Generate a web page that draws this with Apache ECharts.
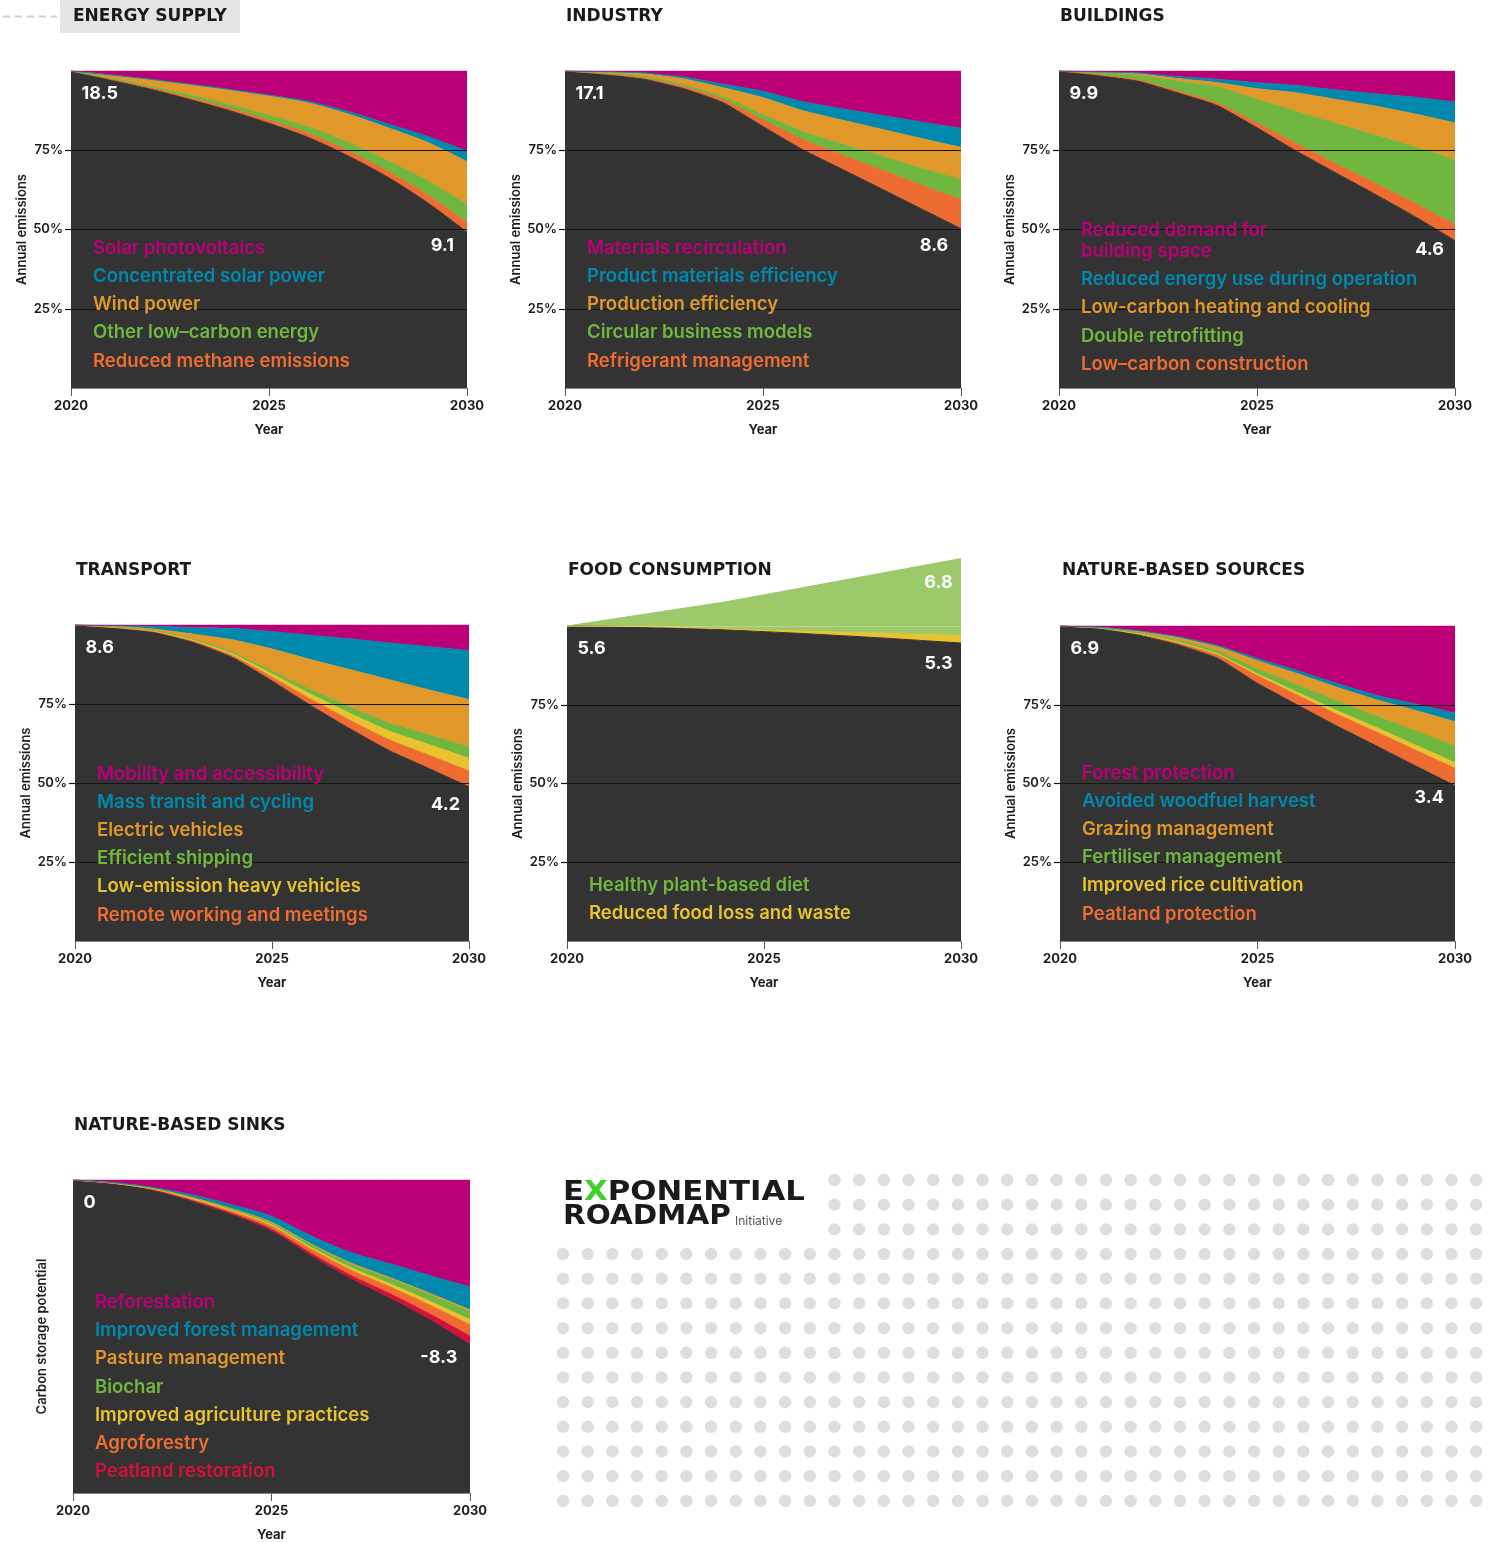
<!DOCTYPE html>
<html>
<head>
<meta charset="utf-8">
<title>Exponential Roadmap – sector pathways 2020–2030</title>
<script src="https://cdn.jsdelivr.net/npm/echarts@6/dist/echarts.min.js"></script>
<style>
  html, body { margin: 0; padding: 0; background: #ffffff; }
  #chart { width: 1488px; height: 1543px; }
</style>
</head>
<body>
<div id="chart"></div>
<script>
// ---------- data: share of 2020 emissions (%) per solution wedge ----------
const years = ['2020', '2021', '2022', '2023', '2024', '2025', '2026', '2027', '2028', '2029', '2030'];

// Energy supply (18.5 Gt in 2020 -> 9.1 Gt in 2030)
const energyTotals      = ['18.5', '9.1'];
const energyRemaining   = [100, 97.2, 94.3, 91.0, 87.5, 83.5, 79.0, 73.2, 66.5, 58.5, 49.2];
const energyMethane     = [0, 0.2, 0.4, 0.6, 0.8, 1.0, 1.3, 1.6, 1.9, 2.5, 3.0];
const energyOtherLow    = [0, 0.3, 0.5, 0.8, 1.1, 1.5, 2.0, 2.6, 3.3, 4.4, 5.6];
const energyWind        = [0, 1.0, 2.1, 3.3, 4.6, 6.1, 7.6, 9.0, 10.4, 12.1, 13.6];
const energyCSP         = [0, 0.05, 0.1, 0.15, 0.2, 0.3, 0.5, 0.8, 1.2, 1.9, 3.3];
const energySolarPV     = [0, 1.25, 2.6, 4.15, 5.8, 7.6, 9.6, 12.8, 16.7, 20.6, 25.3];

// Industry (17.1 -> 8.6)
const industryTotals        = ['17.1', '8.6'];
const industryRemaining     = [100, 98.9, 97.4, 94.4, 90.0, 82.5, 75.2, 69.0, 62.8, 56.5, 50.3];
const industryRefrigerant   = [0, 0.2, 0.4, 0.7, 1.0, 2.1, 3.2, 4.5, 6.0, 7.5, 9.1];
const industryCircular      = [0, 0.2, 0.4, 0.6, 0.9, 1.6, 2.5, 3.4, 4.3, 5.3, 6.3];
const industryProduction    = [0, 0.4, 0.9, 1.8, 2.8, 5.4, 6.6, 7.6, 8.5, 9.4, 10.2];
const industryProductMat    = [0, 0.1, 0.3, 0.6, 1.1, 2.0, 2.8, 3.6, 4.4, 5.2, 6.0];
const industryRecirculation = [0, 0.2, 0.6, 1.9, 4.2, 6.4, 9.7, 11.9, 14.0, 16.1, 18.1];

// Buildings (9.9 -> 4.6)
const buildingsTotals       = ['9.9', '4.6'];
const buildingsRemaining    = [100, 98.6, 96.8, 93.1, 89.1, 82.1, 74.7, 67.8, 61.0, 54.0, 46.5];
const buildingsConstruction = [0, 0.2, 0.4, 0.6, 0.8, 1.5, 2.3, 2.9, 3.5, 4.2, 5.0];
const buildingsRetrofit     = [0, 0.6, 1.4, 3.0, 5.1, 7.4, 10.2, 12.7, 15.2, 17.7, 20.5];
const buildingsHeating      = [0, 0.2, 0.5, 0.9, 1.3, 3.4, 5.9, 7.6, 9.2, 10.5, 11.6];
const buildingsOperation    = [0, 0.1, 0.3, 0.6, 1.1, 1.9, 2.3, 3.0, 3.9, 5.3, 6.6];
const buildingsSpace        = [0, 0.3, 0.6, 1.8, 2.6, 3.7, 4.6, 6.0, 7.2, 8.3, 9.8];

// Transport (8.6 -> 4.2)
const transportTotals    = ['8.6', '4.2'];
const transportRemaining = [100, 99.1, 97.7, 94.5, 89.7, 82.3, 74.4, 67.0, 60.1, 54.5, 48.8];
const transportRemote    = [0, 0.1, 0.2, 0.4, 0.6, 1.2, 2.0, 2.7, 3.4, 4.2, 5.0];
const transportHeavy     = [0, 0.1, 0.2, 0.3, 0.5, 1.0, 1.6, 2.2, 2.8, 3.4, 4.0];
const transportShipping  = [0, 0.1, 0.2, 0.3, 0.5, 0.9, 1.4, 1.9, 2.5, 3.0, 3.6];
const transportEV        = [0, 0.2, 0.4, 1.6, 4.0, 7.0, 9.6, 12.0, 13.8, 14.3, 15.0];
const transportTransit   = [0, 0.2, 0.9, 2.0, 3.6, 5.5, 7.7, 9.8, 11.7, 13.7, 15.5];
const transportMobility  = [0, 0.2, 0.4, 0.9, 1.1, 2.1, 3.3, 4.4, 5.7, 6.9, 8.1];

// Food consumption (5.6 -> 5.3, business-as-usual 6.8)
const foodTotals    = ['5.6', '5.3', '6.8'];
const foodRemaining = [100, 99.9, 99.7, 99.3, 98.8, 98.2, 97.6, 96.9, 96.2, 95.4, 94.6];
const foodWaste     = [0, 0.05, 0.1, 0.2, 0.35, 0.5, 0.8, 1.1, 1.5, 1.9, 2.4];
const foodDiet      = [0, 1.95, 4.0, 6.2, 8.45, 11.2, 13.8, 16.5, 19.1, 21.8, 24.4];

// Nature-based sources (6.9 -> 3.4)
const natureTotals     = ['6.9', '3.4'];
const natureRemaining  = [100, 99.3, 97.1, 94.0, 89.7, 81.8, 75.0, 68.3, 62.0, 55.6, 49.3];
const naturePeatland   = [0, 0.05, 0.3, 0.6, 1.0, 2.4, 3.1, 3.7, 4.4, 5.0, 5.5];
const natureRice       = [0, 0.02, 0.12, 0.24, 0.37, 0.6, 0.9, 1.2, 1.4, 1.6, 1.8];
const natureFertiliser = [0, 0.07, 0.32, 0.6, 0.93, 1.5, 2.3, 3.0, 3.6, 4.5, 5.3];
const natureGrazing    = [0, 0.12, 0.5, 0.86, 1.33, 2.7, 3.6, 4.4, 5.2, 6.5, 7.7];
const natureWoodfuel   = [0, 0.04, 0.16, 0.3, 0.47, 0.7, 0.95, 1.2, 1.4, 2.0, 2.7];
const natureForest     = [0, 0.4, 1.5, 3.4, 6.2, 10.3, 14.15, 18.2, 22.0, 24.8, 27.7];

// Nature-based sinks (Gt CO2 stored; level reaches -8.3 by 2030)
const sinksTotals         = ['0', '-8.3'];
const sinksLevel          = [0, -0.17, -0.5, -1.08, -1.75, -2.58, -3.83, -5.0, -6.0, -7.07, -8.3];
const sinksPeatland       = [0, 0, 0.01, 0.04, 0.06, 0.1, 0.13, 0.18, 0.24, 0.29, 0.42];
const sinksAgroforestry   = [0, 0.01, 0.03, 0.07, 0.1, 0.15, 0.2, 0.27, 0.35, 0.45, 0.58];
const sinksAgriculture    = [0, 0, 0.01, 0.03, 0.05, 0.07, 0.09, 0.12, 0.16, 0.2, 0.25];
const sinksBiochar        = [0, 0.01, 0.02, 0.05, 0.07, 0.1, 0.14, 0.19, 0.25, 0.32, 0.4];
const sinksPasture        = [0, 0, 0.01, 0.01, 0.02, 0.03, 0.04, 0.05, 0.06, 0.08, 0.1];
const sinksForestMgmt     = [0, 0.02, 0.05, 0.13, 0.2, 0.3, 0.4, 0.53, 0.7, 0.9, 1.15];
const sinksReforestation  = [0, 0.13, 0.37, 0.75, 1.25, 1.83, 2.83, 3.66, 4.24, 4.83, 5.4];

const yTickValues = [25, 50, 75];

// ---------- palette ----------
const COL = {
  magenta: '#bb0077', blue: '#0088ad', amber: '#e0982b', green: '#6fb73f',
  orange: '#ee6c31', yellow: '#e8c22f', crimson: '#d2123b', dark: '#333333',
  paleGreen: '#9cc96a', ink: '#1c1c1c'
};

// ---------- panels (layers listed top to bottom, as in the in-plot key) ----------
const panels = [
  { title: 'ENERGY SUPPLY', grid: { left: 71, top: 71, width: 396, height: 317 }, smooth: 0.3,
    base: energyRemaining, totals: energyTotals, legendBottom: 27, endDy: [-13, 245.7], titleX: 73, titleY: 17,
    layers: [
      ['Solar photovoltaics', COL.magenta, energySolarPV],
      ['Concentrated solar power', COL.blue, energyCSP],
      ['Wind power', COL.amber, energyWind],
      ['Other low\u2013carbon energy', COL.green, energyOtherLow],
      ['Reduced methane emissions', COL.orange, energyMethane]
    ] },
  { title: 'INDUSTRY', grid: { left: 565, top: 71, width: 396, height: 317 }, smooth: 0.15,
    base: industryRemaining, totals: industryTotals, legendBottom: 27, endDy: [-12.7, 245.7], titleX: 566, titleY: 17,
    layers: [
      ['Materials recirculation', COL.magenta, industryRecirculation],
      ['Product materials efficiency', COL.blue, industryProductMat],
      ['Production efficiency', COL.amber, industryProduction],
      ['Circular business models', COL.green, industryCircular],
      ['Refrigerant management', COL.orange, industryRefrigerant]
    ] },
  { title: 'BUILDINGS', grid: { left: 1059, top: 71, width: 396, height: 317 }, smooth: 0.15,
    base: buildingsRemaining, totals: buildingsTotals, legendBottom: 23.7, endDy: [-11, 250], titleX: 1060, titleY: 17,
    layers: [
      ['Reduced demand for\nbuilding space', COL.magenta, buildingsSpace],
      ['Reduced energy use during operation', COL.blue, buildingsOperation],
      ['Low-carbon heating and cooling', COL.amber, buildingsHeating],
      ['Double retrofitting', COL.green, buildingsRetrofit],
      ['Low\u2013carbon construction', COL.orange, buildingsConstruction]
    ] },
  { title: 'TRANSPORT', grid: { left: 75, top: 625, width: 394, height: 316 }, smooth: 0.15,
    base: transportRemaining, totals: transportTotals, legendBottom: 26, endDy: [-9, 805], titleX: 76, titleY: 571,
    layers: [
      ['Mobility and accessibility', COL.magenta, transportMobility],
      ['Mass transit and cycling', COL.blue, transportTransit],
      ['Electric vehicles', COL.amber, transportEV],
      ['Efficient shipping', COL.green, transportShipping],
      ['Low-emission heavy vehicles', COL.yellow, transportHeavy],
      ['Remote working and meetings', COL.orange, transportRemote]
    ] },
  { title: 'FOOD CONSUMPTION', grid: { left: 567, top: 626, width: 394, height: 315 }, smooth: false, clip: false,
    base: foodRemaining, totals: foodTotals, legendBottom: 27.7, endDy: [-8.3, 664], topDy: 582.3, titleX: 568, titleY: 571,
    layers: [
      ['Healthy plant-based diet', COL.green, foodDiet, COL.paleGreen],
      ['Reduced food loss and waste', COL.yellow, foodWaste]
    ] },
  { title: 'NATURE-BASED SOURCES', grid: { left: 1060, top: 626, width: 395, height: 315 }, smooth: 0.15,
    base: natureRemaining, totals: natureTotals, legendBottom: 27, endDy: [-11, 797.3], titleX: 1062, titleY: 571,
    layers: [
      ['Forest protection', COL.magenta, natureForest],
      ['Avoided woodfuel harvest', COL.blue, natureWoodfuel],
      ['Grazing management', COL.amber, natureGrazing],
      ['Fertiliser management', COL.green, natureFertiliser],
      ['Improved rice cultivation', COL.yellow, natureRice],
      ['Peatland protection', COL.orange, naturePeatland]
    ] },
  { title: 'NATURE-BASED SINKS', grid: { left: 73, top: 1180, width: 397, height: 316 }, smooth: 0.3, sink: true,
    base: sinksLevel, totals: sinksTotals, legendBottom: 24.3, endDy: [-12.7, 1357.3], titleX: 74, titleY: 1126,
    layers: [
      ['Reforestation', COL.magenta, sinksReforestation],
      ['Improved forest management', COL.blue, sinksForestMgmt],
      ['Pasture management', COL.amber, sinksPasture],
      ['Biochar', COL.green, sinksBiochar],
      ['Improved agriculture practices', COL.yellow, sinksAgriculture],
      ['Agroforestry', COL.orange, sinksAgroforestry],
      ['Peatland restoration', COL.crimson, sinksPeatland]
    ] }
];

// ---------- build grids, axes and stacked areas ----------
const grids = [], xAxes = [], yAxes = [], series = [];
const axisFont = 'Inter';

panels.forEach((p, i) => {
  grids.push(Object.assign({ containLabel: false }, p.grid));

  xAxes.push({
    gridIndex: i, type: 'category', data: years, boundaryGap: false,
    axisLine: { show: true, onZero: false, lineStyle: { color: '#8a8a8a', width: 1 } },
    axisTick: { show: true, interval: 4, length: 8, lineStyle: { color: '#5a5a5a', width: 1 } },
    axisLabel: { interval: 4, color: COL.ink, fontFamily: axisFont, fontWeight: 700, fontSize: 13, margin: 12 },
    splitLine: { show: false },
    name: 'Year', nameLocation: 'middle', nameGap: 36,
    nameTextStyle: { color: COL.ink, fontFamily: axisFont, fontWeight: 700, fontSize: 13 },
    z: 6
  });

  if (p.sink) {
    yAxes.push({
      gridIndex: i, type: 'value', min: -15.8, max: 0,
      axisLine: { show: false }, axisTick: { show: false }, axisLabel: { show: false },
      splitLine: { show: false },
      name: 'Carbon storage potential', nameLocation: 'middle', nameGap: 24, nameRotate: 90,
      nameTextStyle: { color: COL.ink, fontFamily: axisFont, fontWeight: 600, fontSize: 13 }
    });
  } else {
    yAxes.push({
      gridIndex: i, type: 'value', min: 0, max: 100, interval: 25,
      axisLine: { show: false },
      axisTick: { show: true, length: 6, customValues: yTickValues, lineStyle: { color: '#111111', width: 1.2 } },
      axisLabel: { customValues: yTickValues, color: COL.ink, fontFamily: axisFont, fontWeight: 600, fontSize: 13,
                   margin: 8, formatter: v => v + '%' },
      splitLine: { show: false },
      name: 'Annual emissions', nameLocation: 'middle', nameGap: 42, nameRotate: 90,
      nameTextStyle: { color: COL.ink, fontFamily: axisFont, fontWeight: 600, fontSize: 13 },
      z: 6
    });
  }

  const common = {
    type: 'line', xAxisIndex: i, yAxisIndex: i, stack: 'panel' + i, stackStrategy: 'all',
    symbol: 'none', smooth: p.smooth, silent: true, clip: p.clip !== false, z: 2
  };

  // remaining emissions (or storage level) forms the dark base
  series.push(Object.assign({}, common, {
    name: p.title + ' remaining',
    data: p.base.slice(),
    lineStyle: { width: 1, color: COL.dark },
    areaStyle: { color: COL.dark, opacity: 1, origin: 'start' }
  }));

  const stackOrder = p.layers.slice().reverse();
  stackOrder.forEach((layer, li) => {
    const [name, color, values, areaColor] = layer;
    const fill = areaColor || color;
    const s = Object.assign({}, common, {
      name: name.replace('\n', ' '),
      data: values.slice(),
      lineStyle: { width: 1, color: fill },
      areaStyle: { color: fill, opacity: 1 }
    });
    if (li === stackOrder.length - 1 && !p.sink) {
      const lines = yTickValues.map(v => ({ yAxis: v }));
      if (p.clip === false) {
        lines.push({ yAxis: 100, lineStyle: { color: 'rgba(255,255,255,0.28)', width: 1 } });
      }
      s.markLine = {
        silent: true, symbol: ['none', 'none'], label: { show: false },
        lineStyle: { color: '#141414', width: 1.2, type: 'solid' },
        data: lines, animation: false
      };
    }
    series.push(s);
  });
});

const chart = echarts.init(document.getElementById('chart'), null, { renderer: 'canvas', width: 1488, height: 1543 });
chart.setOption({
  animation: false,
  backgroundColor: '#ffffff',
  grid: grids, xAxis: xAxes, yAxis: yAxes, series: series
});

// ---------- text overlays: titles, in-plot keys, totals, logo, dot field ----------
const graphics = [];
function txt(x, y, text, font, fill, align, extra) {
  graphics.push(Object.assign({
    type: 'text', x: x, y: y, z: 100, silent: true,
    style: { text: text, font: font, fill: fill, textAlign: align || 'left', textVerticalAlign: 'middle',
             align: align || 'left', verticalAlign: 'middle' }
  }, extra || {}));
}

// heading tab for the first panel
graphics.push({ type: 'rect', z: 50, silent: true, shape: { x: 60, y: 0, width: 180, height: 33 },
                style: { fill: '#e5e5e5' } });
graphics.push({ type: 'line', z: 50, silent: true, shape: { x1: 3, y1: 16.5, x2: 57, y2: 16.5 },
                style: { stroke: '#cfcfcf', lineWidth: 2, lineDash: [7, 5] } });

const keyFont = '600 18.5px Inter';
const valueFont = '700 18px Inter';

panels.forEach((p, i) => {
  const g = p.grid;
  txt(p.titleX, p.titleY, p.title, 'bold 17px "DejaVu Sans"', '#1a1a1a');

  // key inside the plot, anchored to the bottom
  const step = 28.2;
  let y = g.top + g.height - p.legendBottom;
  for (let k = p.layers.length - 1; k >= 0; k--) {
    const lines = p.layers[k][0].split('\n');
    lines.forEach((ln, j) => txt(g.left + 22, y - (lines.length - 1 - j) * 21, ln, keyFont, p.layers[k][1]));
    y -= step;
  }

  // start and end totals
  txt(g.left + 10.5, g.top + 22.3, p.totals[0], valueFont, '#ffffff');
  txt(g.left + g.width + p.endDy[0], p.endDy[1], p.totals[1], valueFont, '#ffffff', 'right');
  if (p.totals[2]) {
    txt(g.left + g.width + p.endDy[0], p.topDy, p.totals[2], valueFont, '#ffffff', 'right');
  }
});

// logo
const logoFont = 'bold 27px "DejaVu Sans"';
graphics.push({
  type: 'text', x: 563, y: 1193, z: 100, silent: true, scaleX: 1.14, originX: 0, originY: 0,
  style: { text: '{a|E}{g|X}{a|PONENTIAL}', textVerticalAlign: 'middle', verticalAlign: 'middle',
           rich: { a: { font: logoFont, fill: '#1a1a1a' }, g: { font: logoFont, fill: '#3fcf2a' } } }
});
graphics.push({
  type: 'text', x: 563, y: 1217, z: 100, silent: true, scaleX: 1.09, originX: 0, originY: 0,
  style: { text: 'ROADMAP', font: logoFont, fill: '#1a1a1a', textVerticalAlign: 'middle', verticalAlign: 'middle' }
});
txt(735, 1221, 'Initiative', '400 12px Inter', '#555555');

// dot field
const dotStep = 24.68;
for (let r = 0; r < 14; r++) {
  for (let c = 0; c < 38; c++) {
    if (r < 3 && c < 11) continue;
    graphics.push({ type: 'circle', z: 1, silent: true,
                    shape: { cx: 563 + c * dotStep, cy: 1180 + r * dotStep, r: 6.2 },
                    style: { fill: '#dedede' } });
  }
}

chart.setOption({ graphic: graphics });
</script>
</body>
</html>
